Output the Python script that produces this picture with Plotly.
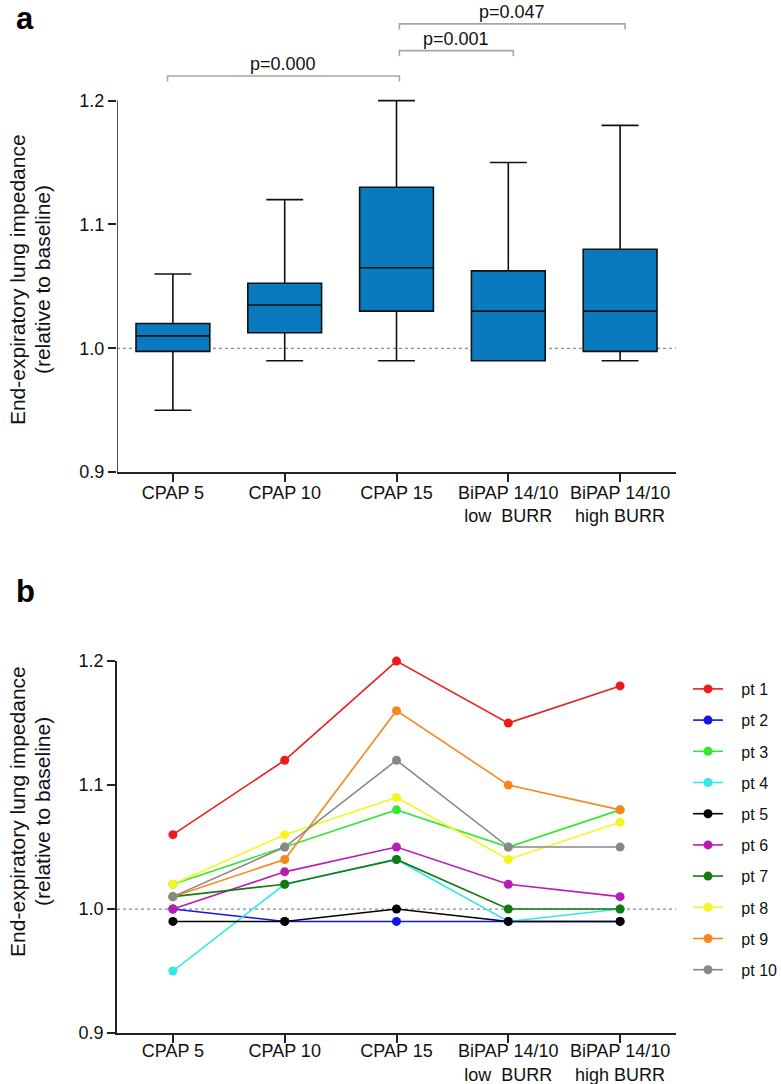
import plotly.graph_objects as go

# ---------------- data ----------------
categories = ["CPAP 5", "CPAP 10", "CPAP 15",
              "BiPAP 14/10<br>low\u00a0\u00a0BURR", "BiPAP 14/10<br>high BURR"]

# panel a: box summary (whisker low, Q1, median, Q3, whisker high)
box_min = [0.95, 0.99, 0.99, 0.99, 0.99]
box_q1 = [0.9975, 1.0125, 1.03, 0.99, 0.9975]
box_median = [1.01, 1.035, 1.065, 1.03, 1.03]
box_q3 = [1.02, 1.0525, 1.13, 1.0625, 1.08]
box_max = [1.06, 1.12, 1.20, 1.15, 1.18]

# significance brackets (category index pairs, label)
brackets_pairs = [(0, 2), (2, 3), (2, 4)]
brackets_labels = ["p=0.000", "p=0.001", "p=0.047"]
brackets_levels = [1.2199, 1.2403, 1.2619]

# panel b: individual patients
patients = ["pt 1", "pt 2", "pt 3", "pt 4", "pt 5", "pt 6", "pt 7", "pt 8", "pt 9", "pt 10"]
pt1 = [1.06, 1.12, 1.20, 1.15, 1.18]
pt2 = [1.00, 0.99, 0.99, 0.99, 0.99]
pt3 = [1.02, 1.05, 1.08, 1.05, 1.08]
pt4 = [0.95, 1.02, 1.04, 0.99, 1.00]
pt5 = [0.99, 0.99, 1.00, 0.99, 0.99]
pt6 = [1.00, 1.03, 1.05, 1.02, 1.01]
pt7 = [1.01, 1.02, 1.04, 1.00, 1.00]
pt8 = [1.02, 1.06, 1.09, 1.04, 1.07]
pt9 = [1.01, 1.04, 1.16, 1.10, 1.08]
pt10 = [1.01, 1.05, 1.12, 1.05, 1.05]
pt_values = [pt1, pt2, pt3, pt4, pt5, pt6, pt7, pt8, pt9, pt10]
pt_colors = ["#ec1c1c", "#1414e6", "#33e833", "#33e8e8", "#000000",
             "#b81cb8", "#137a13", "#f5f522", "#f7861e", "#888888"]

ytick_vals = [0.9, 1.0, 1.1, 1.2]
ytick_text = ["0.9", "1.0", "1.1", "1.2"]
ytitle_lines = ["End-expiratory lung impedance", "(relative to baseline)"]

# ---------------- style ----------------
FONT = "Arial, 'Liberation Sans', Helvetica, sans-serif"
AXC = "#222222"
BOXC = "#0a7abf"
W, H = 781, 1084
L, R, T, B = 117.3, 105, 0, 50.7
plot_h = H - T - B

def py(px):  # pixel row -> paper y
    return (H - B - px) / plot_h

def pxx(px):  # pixel col -> paper x
    return (px - L) / (W - L - R)

fig = go.Figure()

fig.add_trace(go.Box(
    x=categories, q1=box_q1, median=box_median, q3=box_q3,
    lowerfence=box_min, upperfence=box_max,
    fillcolor=BOXC, line=dict(color="#111111", width=1.6),
    width=0.66, whiskerwidth=0.5, boxpoints=False,
    showlegend=False, xaxis="x", yaxis="y", hoverinfo="skip"))

for name, vals, col in zip(patients, pt_values, pt_colors):
    fig.add_trace(go.Scatter(
        x=categories, y=vals, mode="lines+markers",
        name="\u00a0\u00a0\u00a0" + name, legendgroup=name,
        line=dict(color=col, width=1.6),
        marker=dict(color=col, size=9), cliponaxis=False,
        xaxis="x2", yaxis="y2"))

axis_common = dict(showgrid=False, zeroline=False, ticks="outside", ticklen=8,
                   tickwidth=1.6, tickcolor=AXC, linecolor=AXC, linewidth=1.6,
                   tickfont=dict(family=FONT, size=18, color="#111111"))

ya_top = 1.2 + 100.7 / 1240.0
fig.update_layout(
    width=W, height=H,
    margin=dict(l=L, r=R, t=T, b=B, autoexpand=False),
    paper_bgcolor="white", plot_bgcolor="white",
    font=dict(family=FONT, size=18, color="#111111"),
    xaxis=dict(domain=[0, 1], anchor="y", range=[-0.5, 4.5], showline=True,
               type="category", categoryorder="array", categoryarray=categories,
               ticklabelstandoff=-5, **axis_common),
    yaxis=dict(domain=[py(472.3), 1.0], anchor="x", range=[0.9, ya_top],
               tickvals=ytick_vals, ticktext=ytick_text, showline=False,
               **axis_common),
    xaxis2=dict(domain=[0, 1], anchor="y2", range=[-0.5, 4.5], showline=True,
                type="category", categoryorder="array", categoryarray=categories,
                ticklabelstandoff=-7, **axis_common),
    yaxis2=dict(domain=[0, py(661.3)], anchor="x2", range=[0.9, 1.2],
                tickvals=ytick_vals, ticktext=ytick_text, showline=True,
                **axis_common),
    legend=dict(xref="container", yref="container", x=688 / W, y=1 - 672 / H,
                xanchor="left", yanchor="top", bgcolor="rgba(0,0,0,0)",
                font=dict(family=FONT, size=16, color="#111111"),
                tracegroupgap=7.4, itemwidth=30),
    showlegend=True,
)

shapes = []
# panel a y axis line (0.9 - 1.2)
shapes.append(dict(type="line", xref="x", yref="y", x0=-0.5, x1=-0.5, y0=0.9, y1=1.2,
                   line=dict(color=AXC, width=1.6)))
# baseline dotted lines
for xr, yr in (("x", "y"), ("x2", "y2")):
    shapes.append(dict(type="line", xref=xr, yref=yr, x0=-0.5, x1=4.5, y0=1.0, y1=1.0,
                       line=dict(color="#8a8a8a", width=1.2, dash="dot"), layer="below"))
# brackets
annotations = []
for (i0, i1), lab, lev in zip(brackets_pairs, brackets_labels, brackets_levels):
    x0 = i0 + (-0.048 if i0 == 0 else 0.026)
    x1 = i1 + (0.026 if i1 == 2 else 0.045)
    drop = 0.0045
    shapes.append(dict(type="path", xref="x", yref="y",
                       path=f"M {x0},{lev - drop} L {x0},{lev} L {x1},{lev} L {x1},{lev - drop}",
                       line=dict(color="#a6a6a6", width=1.6)))
    annotations.append(dict(xref="x", yref="y", x=(x0 + x1) / 2, y=lev + 0.0095,
                            text=lab, showarrow=False, xanchor="center", yanchor="middle",
                            font=dict(family=FONT, size=18, color="#111111")))

for ycen in (280, 812):
    for xc, line in zip((18.5, 43.5), ytitle_lines):
        annotations.append(dict(xref="paper", yref="paper", x=pxx(xc), y=py(ycen), text=line,
                                textangle=-90, showarrow=False, xanchor="center",
                                yanchor="middle",
                                font=dict(family=FONT, size=21, color="#111111")))
annotations.append(dict(xref="paper", yref="paper", x=pxx(25), y=py(19), text="<b>a</b>",
                        showarrow=False, xanchor="center", yanchor="middle",
                        font=dict(family=FONT, size=31, color="#000000")))
annotations.append(dict(xref="paper", yref="paper", x=pxx(26), y=py(592), text="<b>b</b>",
                        showarrow=False, xanchor="center", yanchor="middle",
                        font=dict(family=FONT, size=31, color="#000000")))

fig.update_layout(shapes=shapes, annotations=annotations)
fig.write_html("out.html", config={"displayModeBar": False},
               post_script="document.body.style.margin='0px';")
